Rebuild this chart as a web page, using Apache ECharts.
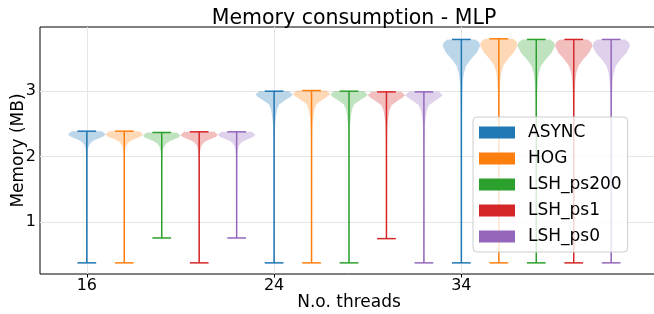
<!DOCTYPE html>
<html>
<head>
<meta charset="utf-8">
<script src="https://cdn.jsdelivr.net/npm/echarts@6/dist/echarts.min.js"></script>
<style>
  html, body { margin: 0; padding: 0; background: #fff; }
  #chart { width: 654px; height: 314px; }
</style>
</head>
<body>
<div id="chart"></div>
<script>
// x categories (thread counts) and the five methods
const threads = ['16', '24', '34']
const methods = ['ASYNC', 'HOG', 'LSH_ps200', 'LSH_ps1', 'LSH_ps0']
const colors = ['#1f77b4', '#ff7f0e', '#2ca02c', '#d62728', '#9467bd']

// max / min memory (MB) per method, one value per thread count
const maxMemory = [
  [2.39, 3.00, 3.79],
  [2.39, 3.01, 3.80],
  [2.37, 3.00, 3.79],
  [2.38, 2.99, 3.79],
  [2.38, 2.99, 3.79]
]
const minMemory = [
  [0.38, 0.38, 0.38],
  [0.38, 0.38, 0.38],
  [0.76, 0.38, 0.38],
  [0.38, 0.75, 0.38],
  [0.76, 0.38, 0.38]
]

// density shape: depth below the max (MB) -> relative width
const depth16 = [0, 0.046, 0.076, 0.107, 0.137, 0.168, 0.213, 0.274, 0.381]
const width16 = [0.8, 1, 0.9, 0.65, 0.4, 0.24, 0.12, 0.06, 0.03]
const depth24 = [0, 0.052, 0.091, 0.128, 0.204, 0.28, 0.381, 0.534, 0.762]
const width24 = [0.8, 1, 0.85, 0.64, 0.27, 0.16, 0.1, 0.05, 0.03]
const depth34 = [0, 0.046, 0.1, 0.203, 0.305, 0.405, 0.508, 0.61, 0.838, 1.22]
const width34 = [0.75, 0.95, 1, 0.82, 0.5, 0.25, 0.14, 0.09, 0.05, 0.03]

const yTicks = [1, 2, 3]
const xTicks = [0, 5, 10]

const depths = [depth16, depth24, depth34]
const widths = [width16, width24, width34]
const HALF = 0.5
const CAP = 0.25
const FONT = 'DejaVu Sans'

function fade (hex, a) {
  const n = parseInt(hex.slice(1), 16)
  return 'rgba(' + (n >> 16) + ',' + ((n >> 8) & 255) + ',' + (n & 255) + ',' + a + ')'
}

function makeRender (mi) {
  return function (params, api) {
    const pos = api.value(0)
    const gi = api.value(1)
    const top = maxMemory[mi][gi]
    const bot = minMemory[mi][gi]
    const d = depths[gi]
    const w = widths[gi]
    const right = []
    for (let k = 0; k < d.length; k++) {
      const v = top - d[k]
      if (v <= bot) break
      right.push([pos + HALF * w[k], v])
    }
    right.push([pos + HALF * 0.02, bot])
    const left = right.slice().reverse().map(p => [2 * pos - p[0], p[1]])
    const pts = right.concat(left).map(p => api.coord(p))
    const c = colors[mi]
    const line = (x1, y1, x2, y2) => {
      const a = api.coord([x1, y1])
      const b = api.coord([x2, y2])
      return {
        type: 'line',
        shape: { x1: a[0], y1: a[1], x2: b[0], y2: b[1] },
        style: { stroke: c, lineWidth: 1.5 }
      }
    }
    return {
      type: 'group',
      children: [
        { type: 'polygon', shape: { points: pts }, style: { fill: fade(c, 0.3), stroke: null } },
        line(pos, bot, pos, top),
        line(pos - CAP, top, pos + CAP, top),
        line(pos - CAP, bot, pos + CAP, bot)
      ]
    }
  }
}

const chart = echarts.init(document.getElementById('chart'), null, { renderer: 'canvas' })

const series = methods.map((name, mi) => ({
  name: name,
  type: 'custom',
  itemStyle: { color: colors[mi] },
  renderItem: makeRender(mi),
  data: threads.map((t, gi) => [gi * 5 + mi, gi]),
  z: 3
}))

// grid lines
series.push({
  name: 'grid',
  type: 'line',
  data: [],
  z: 1,
  markLine: {
    silent: true,
    z: 1,
    symbol: 'none',
    label: { show: false },
    lineStyle: { color: '#e6e6e6', width: 1, type: 'solid' },
    data: xTicks.map(v => ({ xAxis: v })).concat(yTicks.map(v => ({ yAxis: v })))
  }
})

const option = {
  animation: false,
  textStyle: { fontFamily: FONT },
  title: {
    text: 'Memory consumption - MLP',
    left: 349,
    top: 3,
    textAlign: 'center',
    textStyle: { fontFamily: FONT, fontSize: 20.5, fontWeight: 'normal', color: '#000' }
  },
  grid: {
    left: 40,
    top: 27,
    right: -4,
    bottom: 40,
    outerBoundsMode: 'none',
    containLabel: false,
    show: true,
    borderColor: '#000',
    borderWidth: 1
  },
  legend: {
    data: methods,
    orient: 'vertical',
    left: 473,
    top: 117,
    icon: 'rect',
    itemWidth: 36,
    itemHeight: 12,
    itemGap: 9,
    padding: [7, 6, 7, 6],
    backgroundColor: 'rgba(255,255,255,0.8)',
    borderColor: '#cccccc',
    borderWidth: 1,
    borderRadius: 4,
    textStyle: { fontFamily: FONT, fontSize: 17, color: '#000', padding: [0, 0, 0, 8] }
  },
  xAxis: {
    type: 'value',
    min: -1.25,
    max: 15.25,
    name: 'N.o. threads',
    nameLocation: 'middle',
    nameGap: 20,
    nameMoveOverlap: false,
    nameTextStyle: { fontFamily: FONT, fontSize: 17, color: '#000' },
    axisLine: { show: false },
    axisTick: { show: true, customValues: xTicks, length: 3.5, lineStyle: { color: '#000' } },
    axisLabel: {
      customValues: xTicks,
      formatter: v => threads[Math.round(v / 5)],
      fontFamily: FONT,
      fontSize: 16,
      color: '#000',
      margin: 4
    },
    splitLine: { show: false }
  },
  yAxis: {
    type: 'value',
    min: 0.21,
    max: 3.98,
    name: 'Memory (MB)',
    nameLocation: 'middle',
    nameGap: 13,
    nameMoveOverlap: false,
    nameTextStyle: { fontFamily: FONT, fontSize: 17, color: '#000' },
    axisLine: { show: false },
    axisTick: { show: true, customValues: yTicks, length: 3.5, lineStyle: { color: '#000' } },
    axisLabel: {
      customValues: yTicks,
      formatter: v => String(v),
      fontFamily: FONT,
      fontSize: 16,
      color: '#000',
      margin: 4
    },
    splitLine: { show: false }
  },
  series: series
}

chart.setOption(option)
</script>
</body>
</html>
